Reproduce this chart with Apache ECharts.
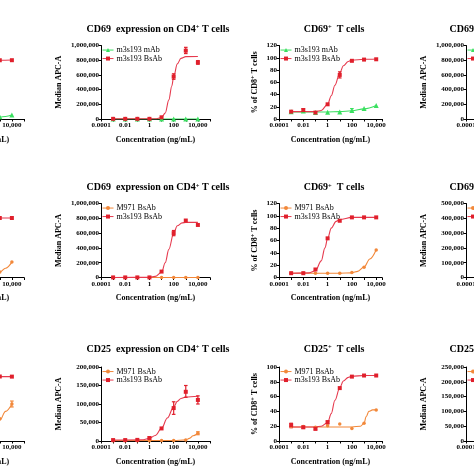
<!DOCTYPE html>
<html><head><meta charset="utf-8">
<script src="https://cdn.jsdelivr.net/npm/echarts@6/dist/echarts.min.js"></script>
<style>html,body{margin:0;padding:0;background:#fff}#c{width:474px;height:474px}</style>
</head><body><div id="c"></div>
<script>
// ---------------- DATA ----------------
const conc = [0.001, 0.01, 0.1, 1, 10, 100, 1000, 10000];
const xTickValues = [0.0001, 0.01, 1, 100, 10000];
const xTickLabels = ['0.0001', '0.01', '1', '100', '10,000'];

const titlesRow1 = ['CD69{sup|+}  T cells', 'CD69  expression on CD4{sup|+} T cells', 'CD69{sup|+}  T cells', 'CD69  expression on CD8{sup|+} T cells'];
const titlesRow2 = ['CD69{sup|+}  T cells', 'CD69  expression on CD4{sup|+} T cells', 'CD69{sup|+}  T cells', 'CD69  expression on CD8{sup|+} T cells'];
const titlesRow3 = ['CD25{sup|+}  T cells', 'CD25  expression on CD4{sup|+} T cells', 'CD25{sup|+}  T cells', 'CD25  expression on CD8{sup|+} T cells'];
const yNames = ['% of CD4{sup|+} T cells', 'Median APC-A', '% of CD8{sup|+} T cells', 'Median APC-A'];
const xName = 'Concentration (ng/mL)';
const legendRow1 = ['m3s193 mAb', 'm3s193 BsAb'];
const legendRow23 = ['M971 BsAb', 'm3s193 BsAb'];

// y axis ranges [max, interval] per row / column
const yRangesRow1 = [[120, 20], [1000000, 200000], [120, 20], [1000000, 200000]];
const yRangesRow2 = [[120, 20], [1000000, 200000], [120, 20], [500000, 100000]];
const yRangesRow3 = [[100, 20], [200000, 50000], [100, 20], [250000, 50000]];

// Row 1, column 0 (partially visible)
const r1c0_green = [3, 3, 3, 3, 3, 3, 3.5, 6.5];
const r1c0_green_fit = [[0.001, 2.8], [100, 2.8], [1000, 3], [3000, 4.2], [10000, 6.5]];
const r1c0_red = [11, 12, 11, 26, 78, 94, 96, 96];
const r1c0_red_fit = [[0.001, 11], [0.1, 11.5], [1, 24], [10, 76], [100, 94], [1000, 96], [10000, 96.3]];

// Row 1, column 1: CD69 expression on CD4+ (m3s193 mAb vs BsAb)
const r1c1_green = [0, 0, 0, 0, 0, 0, 0, 0];
const r1c1_green_fit = [[0.001, 0], [10000, 0]];
const r1c1_red = [2000, 2000, 2000, 2000, 23000, 577000, 930000, 770000];
const r1c1_red_err = [[100, 540000, 615000], [1000, 890000, 975000], [10000, 745000, 795000]];
const r1c1_red_fit = [[0.001, 2000], [3, 3000], [10, 20000], [20, 80000], [40, 260000], [70, 450000], [100, 575000], [200, 750000], [400, 825000], [1000, 848000], [10000, 850000]];

// Row 1, column 2: CD69+ % of CD8+
const r1c2_green = [12, 13, 10.5, 11, 11.5, 14, 17, 22];
const r1c2_green_err = [[100, 11, 17]];
const r1c2_green_fit = [[0.001, 11.5], [1, 11.5], [10, 12], [100, 13.5], [1000, 16.5], [10000, 22]];
const r1c2_red = [12, 14.5, 10.5, 24, 72, 95, 97, 97.5];
const r1c2_red_err = [[0.01, 12, 17], [10, 67, 77]];
const r1c2_red_fit = [[0.001, 12], [0.1, 12], [0.3, 14], [1, 24], [2, 38], [4, 55], [10, 75], [20, 87], [50, 94], [100, 96], [1000, 97.5], [10000, 98]];

// Row 2, column 0 (partially visible)
const r2c0_orange = [6, 6, 6, 6, 6, 6.5, 9, 25];
const r2c0_orange_fit = [[0.001, 6], [100, 6.2], [1000, 9], [3000, 15], [10000, 25]];
const r2c0_red = [7, 7, 12, 60, 92, 96, 96.5, 96.5];
const r2c0_red_fit = [[0.001, 7], [0.1, 12], [1, 60], [10, 92], [100, 96], [1000, 96.5], [10000, 96.5]];

// Row 2, column 1: CD69 expression on CD4+ (M971 vs m3s193 BsAb)
const r2c1_orange = [0, 0, 0, 0, 0, 0, 0, 0];
const r2c1_orange_fit = [[0.001, 0], [10000, 0]];
const r2c1_red = [1000, 1000, 1000, 1000, 80000, 600000, 770000, 710000];
const r2c1_red_err = [[100, 565000, 635000]];
const r2c1_red_fit = [[0.001, 1000], [1, 2000], [3, 15000], [10, 70000], [20, 200000], [40, 380000], [100, 600000], [200, 700000], [500, 738000], [1000, 745000], [10000, 745000]];

// Row 2, column 2: CD69+ % of CD8+
const r2c2_orange = [7, 7, 7, 7, 7, 8, 16.5, 44.5];
const r2c2_orange_fit = [[0.001, 7], [10, 7], [100, 7.5], [300, 10], [1000, 17], [3000, 30], [10000, 45]];
const r2c2_red = [7, 7, 13, 63.5, 92, 97.5, 97.5, 97.5];
const r2c2_red_fit = [[0.001, 7], [0.03, 7.5], [0.1, 11], [0.3, 27], [0.6, 48], [1, 63], [2, 80], [5, 91], [10, 94], [100, 97.5], [10000, 97.5]];

// Row 3, column 0 (partially visible)
const r3c0_orange = [25, 25, 25, 25, 25, 26, 30, 50];
const r3c0_orange_err = [[10000, 46, 54]];
const r3c0_orange_fit = [[0.001, 25], [300, 26], [1000, 28], [3000, 40], [10000, 50]];
const r3c0_red = [20, 20, 20, 30, 75, 86, 87, 87];
const r3c0_red_fit = [[0.001, 20], [0.3, 21], [1, 30], [10, 74], [100, 86], [1000, 87], [10000, 87]];

// Row 3, column 1: CD25 expression on CD4+
const r3c1_orange = [1000, 1000, 1000, 1000, 1500, 1500, 3000, 21000];
const r3c1_orange_err = [[10000, 17000, 25000]];
const r3c1_orange_fit = [[0.001, 1000], [100, 1200], [1000, 3000], [2000, 7000], [4000, 14000], [10000, 21000]];
const r3c1_red = [2500, 2500, 3000, 8000, 34000, 89000, 133000, 111000];
const r3c1_red_err = [[1, 5000, 11000], [100, 72000, 106000], [1000, 118000, 150000], [10000, 100000, 122000]];
const r3c1_red_fit = [[0.001, 2500], [0.3, 3500], [1, 7000], [3, 15000], [10, 34000], [30, 62000], [100, 92000], [200, 107000], [400, 115000], [1000, 119000], [10000, 121000]];

// Row 3, column 2: CD25+ % of CD8+
const r3c2_orange = [19.5, 19.5, 18.5, 20.5, 23, 17, 24, 42];
const r3c2_orange_fit = [[0.001, 19], [100, 19], [500, 20], [1000, 24], [1500, 33], [2500, 40], [5000, 42], [10000, 42]];
const r3c2_red = [21.5, 18.5, 16.5, 25.5, 71.5, 87, 88.5, 88.5];
const r3c2_red_err = [[0.001, 18, 24], [0.01, 17, 20], [0.1, 15, 18], [1, 23, 27]];
const r3c2_red_fit = [[0.001, 19], [0.1, 19], [0.3, 20], [1, 25], [2, 37], [4, 55], [10, 72], [20, 81], [50, 86], [100, 87.5], [1000, 88.5], [10000, 88.5]];

// ---------------- LAYOUT / STYLE ----------------
const FONT = '"Liberation Serif","Times New Roman",serif';
const RED = '#e0202c', REDFIT = '#e63a4e', GREEN = '#3ae060', ORANGE = '#f2883a';
const cols = [
  { left: -85, width: 109, max: 1e5, titleX: -34, yGap: 20 },
  { left: 101, width: 109, max: 1e5, titleX: 158, yGap: 38 },
  { left: 279, width: 103, max: 3e4, titleX: 334, yGap: 19 },
  { left: 466, width: 109, max: 1e5, titleX: 521, yGap: 38 }
];
const rows = [
  { top: 45.5, height: 73.5, titleY: 29, titles: titlesRow1, ranges: yRangesRow1, legend: legendRow1 },
  { top: 203.5, height: 74, titleY: 187.5, titles: titlesRow2, ranges: yRangesRow2, legend: legendRow23 },
  { top: 367, height: 74, titleY: 349, titles: titlesRow3, ranges: yRangesRow3, legend: legendRow23 }
];
const styleOf = {
  'm3s193 mAb': { color: GREEN, fit: GREEN, symbol: 'triangle', size: 5 },
  'M971 BsAb': { color: ORANGE, fit: ORANGE, symbol: 'circle', size: 3.5 },
  'm3s193 BsAb': { color: RED, fit: REDFIT, symbol: 'rect', size: 4 }
};
// panel contents: [row, col, [[name, points, fit, err], ...]]
const panels = [
  [0, 0, [['m3s193 mAb', r1c0_green, r1c0_green_fit], ['m3s193 BsAb', r1c0_red, r1c0_red_fit]]],
  [0, 1, [['m3s193 mAb', r1c1_green, r1c1_green_fit], ['m3s193 BsAb', r1c1_red, r1c1_red_fit, r1c1_red_err]]],
  [0, 2, [['m3s193 mAb', r1c2_green, r1c2_green_fit, r1c2_green_err], ['m3s193 BsAb', r1c2_red, r1c2_red_fit, r1c2_red_err]]],
  [1, 0, [['M971 BsAb', r2c0_orange, r2c0_orange_fit], ['m3s193 BsAb', r2c0_red, r2c0_red_fit]]],
  [1, 1, [['M971 BsAb', r2c1_orange, r2c1_orange_fit], ['m3s193 BsAb', r2c1_red, r2c1_red_fit, r2c1_red_err]]],
  [1, 2, [['M971 BsAb', r2c2_orange, r2c2_orange_fit], ['m3s193 BsAb', r2c2_red, r2c2_red_fit]]],
  [2, 0, [['M971 BsAb', r3c0_orange, r3c0_orange_fit, r3c0_orange_err], ['m3s193 BsAb', r3c0_red, r3c0_red_fit]]],
  [2, 1, [['M971 BsAb', r3c1_orange, r3c1_orange_fit, r3c1_orange_err], ['m3s193 BsAb', r3c1_red, r3c1_red_fit, r3c1_red_err]]],
  [2, 2, [['M971 BsAb', r3c2_orange, r3c2_orange_fit], ['m3s193 BsAb', r3c2_red, r3c2_red_fit, r3c2_red_err]]]
];

const supRich = { sup: { fontSize: 6.5, fontWeight: 'bold', fontFamily: FONT, verticalAlign: 'top', padding: [0, 0, 3, 0] } };

function xLabel(v) {
  const e = Math.log10(v);
  const i = xTickValues.findIndex(t => Math.abs(Math.log10(t) - e) < 1e-6);
  return i >= 0 ? xTickLabels[i] : '';
}
function yLabel(v) { return Math.round(v).toLocaleString('en-US'); }

const grid = [], xAxis = [], yAxis = [], series = [], legend = [], graphic = [];
rows.forEach((r, ri) => {
  cols.forEach((c, ci) => {
    const idx = grid.length;
    grid.push({ left: c.left, top: r.top, width: c.width, height: r.height, containLabel: false, outerBoundsMode: 'none' });
    xAxis.push({
      type: 'log', gridIndex: idx, min: 0.0001, max: c.max, logBase: 10,
      name: xName, nameLocation: 'middle', nameGap: 16.5,
      nameTextStyle: { fontFamily: FONT, fontWeight: 'bold', fontSize: 8, color: '#000' },
      axisLine: { onZero: false, lineStyle: { color: '#000', width: 1 } },
      axisTick: { show: true, length: 2.5, lineStyle: { color: '#000' } },
      minorTick: { show: false },
      splitLine: { show: false },
      axisLabel: { formatter: xLabel, margin: 3, fontFamily: FONT, fontWeight: 'bold', fontSize: 7, color: '#000', hideOverlap: false, showMinLabel: true, showMaxLabel: true }
    });
    const rg = r.ranges[ci];
    yAxis.push({
      type: 'value', gridIndex: idx, min: 0, max: rg[0], interval: rg[1],
      name: yNames[ci], nameLocation: 'middle', nameRotate: 90, nameGap: c.yGap,
      nameTextStyle: { fontFamily: FONT, fontWeight: 'bold', fontSize: 8, color: '#000', rich: supRich },
      axisLine: { show: true, onZero: false, lineStyle: { color: '#000', width: 1 } },
      axisTick: { show: true, length: 2.5, lineStyle: { color: '#000' } },
      splitLine: { show: false },
      axisLabel: { formatter: yLabel, margin: 2, fontFamily: FONT, fontWeight: 'bold', fontSize: 7, color: '#000', hideOverlap: false }
    });
    graphic.push({
      type: 'text', x: c.titleX, y: r.titleY, silent: true,
      style: { text: r.titles[ci], align: 'center', verticalAlign: 'middle', fontFamily: FONT, fontWeight: 'bold', fontSize: 10, fill: '#000', rich: supRich }
    });
    if (ci > 0) {
      legend.push({
        data: r.legend, orient: 'vertical', left: c.left + 1, top: r.top + 0.3, padding: 0,
        itemWidth: 11, itemHeight: 5, itemGap: 0, selectedMode: false,
        lineStyle: { width: 1, opacity: 1 },
        textStyle: { fontFamily: FONT, fontSize: 8, color: '#000', lineHeight: 8.5, padding: [0, 0, 0, -2] }
      });
    }
  });
});

panels.forEach(([ri, ci, groups]) => {
  const idx = ri * 4 + ci;
  groups.forEach(([name, pts, fit, err]) => {
    const st = styleOf[name];
    series.push({
      type: 'line', name: name + ' fit', xAxisIndex: idx, yAxisIndex: idx,
      data: fit, smooth: 0.35, smoothMonotone: 'x', symbol: 'none', silent: true,
      lineStyle: { color: st.fit, width: 1.1 }, z: 2
    });
    if (err) {
      series.push({
        type: 'custom', name: name + ' err', xAxisIndex: idx, yAxisIndex: idx, silent: true, z: 3,
        data: err, encode: { x: 0, y: [1, 2] },
        renderItem: (params, api) => {
          const x = api.value(0);
          const p1 = api.coord([x, api.value(1)]);
          const p2 = api.coord([x, api.value(2)]);
          const s = { stroke: st.color, lineWidth: 1.2 };
          return { type: 'group', children: [
            { type: 'line', shape: { x1: p1[0], y1: p1[1], x2: p2[0], y2: p2[1] }, style: s },
            { type: 'line', shape: { x1: p1[0] - 1.8, y1: p1[1], x2: p1[0] + 1.8, y2: p1[1] }, style: s },
            { type: 'line', shape: { x1: p2[0] - 1.8, y1: p2[1], x2: p2[0] + 1.8, y2: p2[1] }, style: s }
          ] };
        }
      });
    }
    series.push({
      type: 'line', name: name, xAxisIndex: idx, yAxisIndex: idx,
      data: conc.map((x, i) => [x, pts[i]]), symbol: st.symbol, symbolSize: st.size, showSymbol: true,
      itemStyle: { color: st.color }, lineStyle: { color: st.fit, width: 1, opacity: 0 }, z: 4, silent: true
    });
  });
});

const chart = echarts.init(document.getElementById('c'), null, { renderer: 'canvas' });
chart.setOption({
  animation: false,
  backgroundColor: '#fff',
  grid, xAxis, yAxis, legend, series, graphic
});
</script></body></html>
